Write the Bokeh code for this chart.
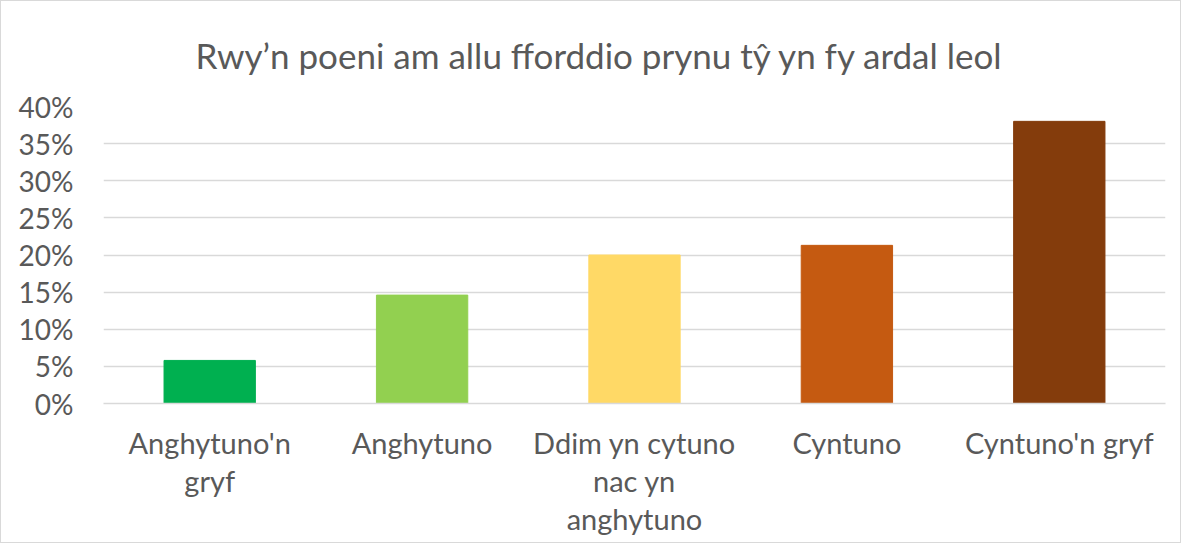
from bokeh.plotting import figure
from bokeh.models import ColumnDataSource, FixedTicker, PrintfTickFormatter, Range1d
from bokeh.embed import file_html
from bokeh.resources import INLINE

categories = ["Anghytuno'n\ngryf", "Anghytuno", "Ddim yn cytuno\nnac yn\nanghytuno", "Cyntuno", "Cyntuno'n gryf"]
values = [5.8, 14.6, 20.0, 21.3, 38.0]
colors = ["#00B050", "#92D050", "#FFD966", "#C55A11", "#843C0C"]
y_ticks = [0, 5, 10, 15, 20, 25, 30, 35, 40]
title_text = "Rwy\u2019n poeni am allu fforddio prynu t\u0177 yn fy ardal leol"

FONT = "Lato"
GREY = "#595959"

source = ColumnDataSource(dict(cat=categories, val=values, color=colors))

p = figure(x_range=categories, y_range=Range1d(0, 40), width=1181, height=543,
           output_backend="svg", toolbar_location=None, tools="",
           min_border_left=102, min_border_right=17, min_border_top=105, min_border_bottom=141)

p.vbar(x="cat", top="val", width=0.43, color="color", source=source)

p.title.text = title_text
p.title.text_font = FONT
p.title.text_font_size = "35px"
p.title.text_font_style = "normal"
p.title.text_color = GREY
p.title.align = "left"
p.title.vertical_align = "top"
p.title.offset = 92
p.title.standoff = 58

p.outline_line_color = None
p.background_fill_color = "white"
p.border_fill_color = "white"

p.xgrid.grid_line_color = None
p.ygrid.grid_line_color = "#D9D9D9"
p.ygrid.grid_line_width = 1.5

p.yaxis.ticker = FixedTicker(ticks=y_ticks)
p.yaxis.formatter = PrintfTickFormatter(format="%d%%")
p.yaxis.axis_line_color = None
p.yaxis.major_tick_line_color = None
p.yaxis.minor_tick_line_color = None
p.yaxis.major_tick_out = 0
p.yaxis.major_label_standoff = 30
p.yaxis.major_label_text_font = FONT
p.yaxis.major_label_text_font_size = "28px"
p.yaxis.major_label_text_color = GREY

p.xaxis.axis_line_color = "#D9D9D9"
p.xaxis.axis_line_width = 1.5
p.xaxis.major_tick_line_color = None
p.xaxis.major_tick_out = 0
p.xaxis.major_label_standoff = 21
p.xaxis.major_label_text_font = FONT
p.xaxis.major_label_text_font_size = "29px"
p.xaxis.major_label_text_color = GREY
p.xaxis.major_label_text_line_height = 1.09

p.styles = {"border": "1px solid #D9D9D9"}

open("out.html", "w").write(file_html(p, INLINE))
